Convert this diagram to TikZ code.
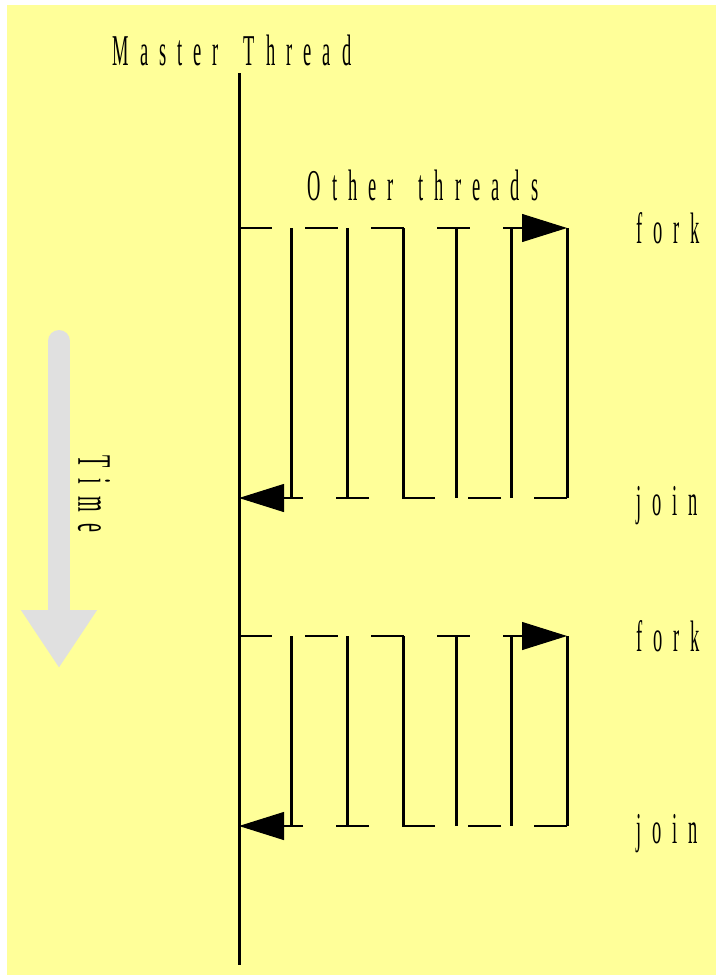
\documentclass[tikz,border=0pt]{standalone}
\usepackage{fontspec}
\usetikzlibrary{arrows.meta}
\newfontfamily\narrowfont[FakeStretch=0.42,LetterSpace=25,WordSpace=1.6]{Liberation Serif}
\definecolor{bgyellow}{RGB}{255,255,153}
\definecolor{timegray}{RGB}{224,224,224}
\tikzset{
  lbl/.style={font=\narrowfont\fontsize{44}{48}\selectfont, inner sep=0pt},
  thread/.style={line width=3pt},
  msg/.style={line width=1.1pt, dash pattern=on 33pt off 33pt},
  tip/.style={-{Triangle[length=45pt,width=28pt]}}
}
\begin{document}
\begin{tikzpicture}[x=1pt,y=-1pt]
\useasboundingbox (0,0) rectangle (719,977);
\fill[bgyellow] (7,5) rectangle (716,975);

\node(master)[lbl,anchor=base] at (232,65) {Master Thread};
\node(others)[lbl,anchor=base] at (423,200) {Other threads};
\node(time)[lbl,font=\narrowfont\fontsize{48}{52}\selectfont,rotate=-90] at (94,494) {Time};

\coordinate(mtop) at (239,73);
\coordinate(mbot) at (239,965);
\draw[thread] (mtop) -- (mbot);

% time arrow
\coordinate(ttop) at (59,341);
\coordinate(tbot) at (59,668);
\draw[timegray,line width=22pt,line cap=round,-{Triangle[length=58pt,width=72pt]}] (ttop) -- (tbot);

\foreach \g/\yf/\yj in {1/228/498, 2/636/826} {
  \coordinate(fork\g) at (239,\yf);
  \coordinate(join\g) at (239,\yj);
  \foreach \x [count=\i] in {291,347,403,456,511,567} {
    \coordinate(s\g\i) at (\x,\yf);
    \coordinate(e\g\i) at (\x,\yj);
    \draw[thread] (s\g\i) -- (e\g\i);
  }
  \draw[msg,tip] (fork\g) -- (s\g6);
  \draw[msg,tip] (e\g6) -- (join\g);
  \node(flbl\g)[lbl,anchor=base] at (668,\yf+15) {fork};
  \node(jlbl\g)[lbl,anchor=base] at (667,\yj+17) {join};
}
\end{tikzpicture}
\end{document}
